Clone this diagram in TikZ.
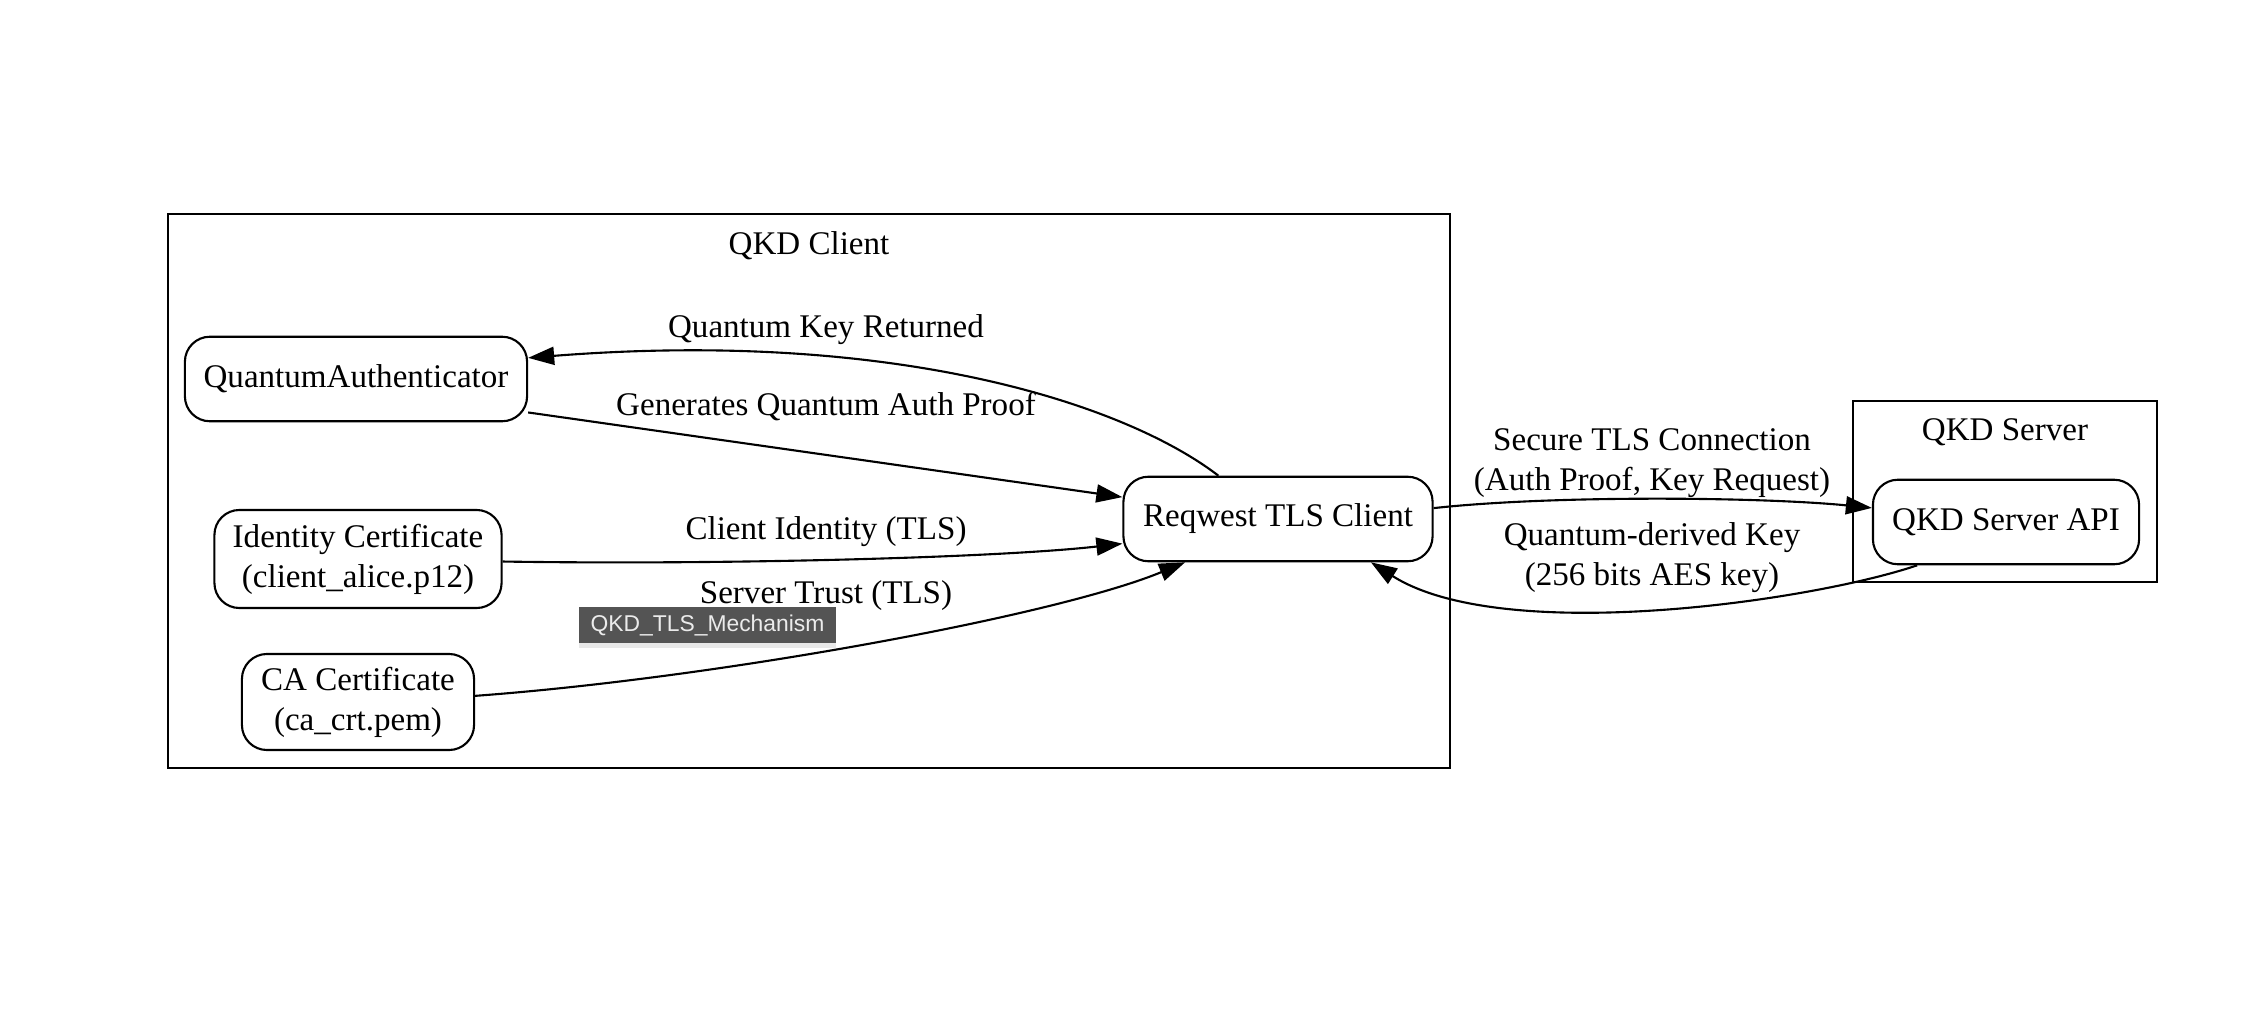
\documentclass[tikz,border=0pt]{standalone}
\usepackage{fontspec}
\setmainfont{Liberation Serif}
\newfontfamily\tipfont{Liberation Sans}
\usetikzlibrary{arrows.meta,shadows}

\tikzset{
    comp/.style={draw, line width=0.6pt, rounded corners=0.25cm, align=center,
        inner sep=0pt, font=\fontsize{9.4}{11.4}\selectfont},
    cluster/.style={draw, line width=0.6pt},
    flow/.style={line width=0.6pt, -{Triangle[length=0.26cm,width=0.18cm]}},
    lbl/.style={align=center, inner sep=0pt, font=\fontsize{9.4}{11.4}\selectfont},
    tip/.style={fill=black!67, text=black!8, inner sep=0pt, font=\tipfont\fontsize{6.5}{7}\selectfont,
        drop shadow={opacity=0.18, shadow xshift=0pt, shadow yshift=-1.5pt}}
}

\begin{document}
\begin{tikzpicture}[x=0.01cm, y=-0.01cm]
    % --- Canvas ---
    \useasboundingbox (0,0) rectangle (2252,1016);

    % --- Clusters ---
    \draw[cluster] (168,214) rectangle (1450,768);   % QKD Client
    \draw[cluster] (1853,401) rectangle (2157,582);  % QKD Server
    \node[lbl] (clienttitle) at (809,246) {QKD Client};
    \node[lbl] (servertitle) at (2005,432) {QKD Server};

    % --- Components ---
    \node[comp, minimum width=3.42cm, minimum height=0.845cm] (qa)  at (356,379) {QuantumAuthenticator};
    \node[comp, minimum width=2.87cm, minimum height=0.98cm]  (idc) at (358,559) {Identity Certificate\\(client\_alice.p12)};
    \node[comp, minimum width=2.32cm, minimum height=0.96cm]  (ca)  at (358,702) {CA Certificate\\(ca\_crt.pem)};
    \node[comp, minimum width=3.09cm, minimum height=0.845cm] (rtc) at (1278,519) {Reqwest TLS Client};
    \node[comp, minimum width=2.66cm, minimum height=0.845cm] (api) at (2006,522) {QKD Server API};

    % --- Connectors ---
    % 1. Inside the client
    \draw[flow] (rtc.144) .. controls (1125,404) and (896,329) .. (qa.7);
    \draw[flow] (qa.-11) -- (rtc.172);
    \draw[flow] (idc.-1) .. controls (717,565) and (995,558) .. (rtc.189);
    \draw[flow] (ca.3) .. controls (717,678) and (1055,616) .. (rtc.205);

    % 2. Client <-> server
    \draw[flow] (rtc.4) .. controls (1553,495) and (1762,497) .. (api.174);
    \draw[flow] (api.206) .. controls (1812,601) and (1503,646) .. (rtc.-25);

    % --- Labels ---
    \node[lbl] (retlbl)   at (826,330) {Quantum Key Returned};
    \node[lbl] (genlbl)   at (826,407) {Generates Quantum Auth Proof};
    \node[lbl] (idlbl)    at (826,532) {Client Identity (TLS)};
    \node[lbl] (trustlbl) at (826,596) {Server Trust (TLS)};
    \node[lbl] (seclbl)   at (1652,463) {Secure TLS Connection\\(Auth Proof, Key Request)};
    \node[lbl] (keylbl)   at (1652,558) {Quantum-derived Key\\(256 bits AES key)};

    % --- Tooltip ---
    \node[tip, minimum width=2.57cm, minimum height=0.36cm] (tooltip) at (707.5,625) {QKD\_TLS\_Mechanism};
\end{tikzpicture}
\end{document}
